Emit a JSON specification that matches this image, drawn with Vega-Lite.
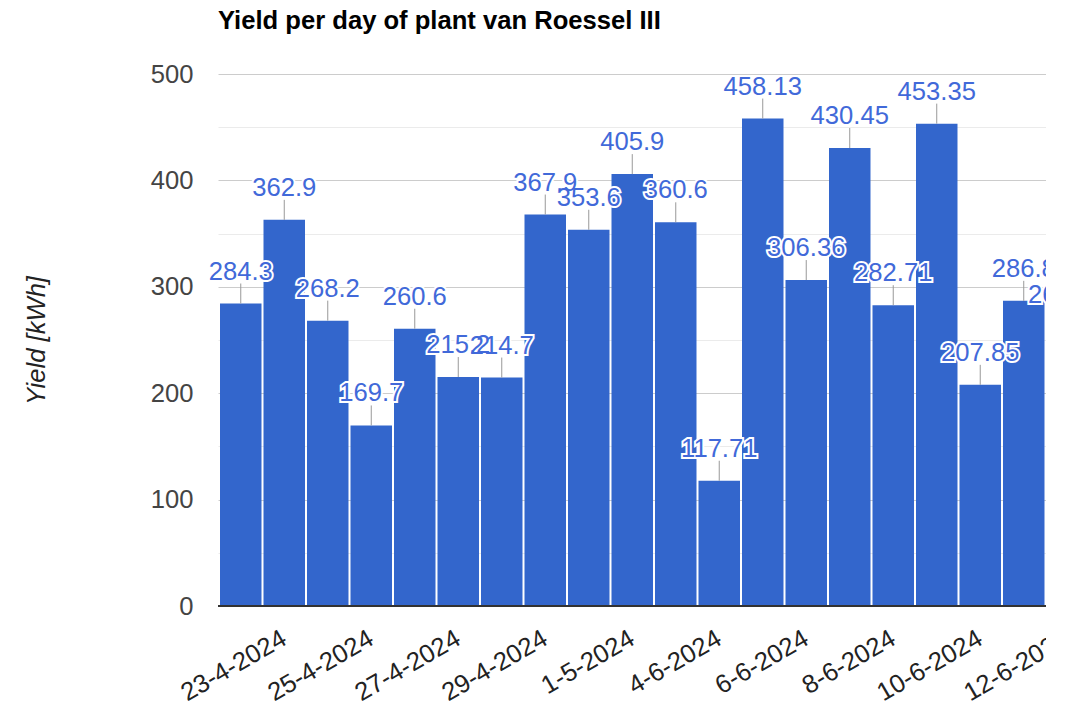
{
  "$schema": "https://vega.github.io/schema/vega-lite/v6.json",
  "autosize": {"type": "none"},
  "padding": {"left": 218, "top": 74, "right": 0, "bottom": 101},
  "width": 828,
  "height": 532,
  "background": "white",
  "title": {
    "text": "Yield per day of plant van Roessel III",
    "anchor": "start",
    "frame": "group",
    "font": "Liberation Sans",
    "fontSize": 25.6,
    "fontWeight": "bold",
    "color": "#000000",
    "baseline": "alphabetic",
    "offset": 7
  },
  "config": {"view": {"stroke": null}, "font": "Liberation Sans"},
  "data": {
    "values": [
      {"date": "22-4-2024", "value": 284.3},
      {"date": "23-4-2024", "value": 362.9},
      {"date": "24-4-2024", "value": 268.2},
      {"date": "25-4-2024", "value": 169.7},
      {"date": "26-4-2024", "value": 260.6},
      {"date": "27-4-2024", "value": 215.2},
      {"date": "28-4-2024", "value": 214.7},
      {"date": "29-4-2024", "value": 367.9},
      {"date": "30-4-2024", "value": 353.6},
      {"date": "1-5-2024", "value": 405.9},
      {"date": "2-5-2024", "value": 360.6},
      {"date": "4-6-2024", "value": 117.71},
      {"date": "5-6-2024", "value": 458.13},
      {"date": "6-6-2024", "value": 306.36},
      {"date": "7-6-2024", "value": 430.45},
      {"date": "8-6-2024", "value": 282.71},
      {"date": "9-6-2024", "value": 453.35},
      {"date": "10-6-2024", "value": 207.85},
      {"date": "11-6-2024", "value": 286.8},
      {"date": "12-6-2024", "value": 261.92}
    ]
  },
  "layer": [
    {
      "mark": {"type": "bar", "color": "#3366cc"},
      "encoding": {
        "x": {
          "field": "date",
          "type": "nominal",
          "sort": null,
          "scale": {"range": [0, 872], "paddingInner": 0.046, "paddingOuter": 0.046},
          "axis": {
            "title": null,
            "values": ["23-4-2024", "25-4-2024", "27-4-2024", "29-4-2024", "1-5-2024", "4-6-2024", "6-6-2024", "8-6-2024", "10-6-2024", "12-6-2024"],
            "labelAngle": -30,
            "labelAlign": "right",
            "labelBaseline": "middle",
            "labelPadding": 30,
            "ticks": false,
            "domain": false,
            "grid": false,
            "labelFontSize": 25.6,
            "labelColor": "#222222",
            "labelOverlap": false,
            "labelLimit": 300
          }
        },
        "y": {
          "field": "value",
          "type": "quantitative",
          "scale": {"domain": [0, 500], "nice": false},
          "axis": {
            "title": "Yield [kWh]",
            "titleFontStyle": "italic",
            "titleFontWeight": "normal",
            "titleFontSize": 25.6,
            "titleColor": "#222222",
            "titlePadding": 101,
            "labelFontSize": 25.6,
            "labelColor": "#444444",
            "labelPadding": 25,
            "ticks": false,
            "domain": false,
            "values": [0, 50, 100, 150, 200, 250, 300, 350, 400, 450, 500],
            "labelExpr": "datum.value % 100 === 0 ? datum.label : ''",
            "gridColor": {"condition": {"test": "datum.value % 100 === 0", "value": "#cccccc"}, "value": "#ebebeb"}
          }
        }
      }
    },
    {
      "mark": {"type": "rule", "color": "#333333", "strokeWidth": 1.5},
      "encoding": {"y": {"datum": 0, "type": "quantitative"}}
    },
    {
      "mark": {"type": "rule", "color": "#999999", "strokeWidth": 1, "y2Offset": -20},
      "encoding": {
        "x": {"field": "date", "type": "nominal", "sort": null, "bandPosition": 0.5},
        "y": {"field": "value", "type": "quantitative"},
        "y2": {"field": "value"}
      }
    },
    {
      "mark": {"type": "text", "baseline": "alphabetic", "align": "center", "dy": -24, "fontSize": 25.6, "fill": "white", "stroke": "white", "strokeWidth": 4},
      "encoding": {
        "x": {"field": "date", "type": "nominal", "sort": null},
        "y": {"field": "value", "type": "quantitative"},
        "text": {"field": "value", "type": "quantitative", "format": ""}
      }
    },
    {
      "mark": {"type": "text", "baseline": "alphabetic", "align": "center", "dy": -24, "fontSize": 25.6, "fill": "#4169d9"},
      "encoding": {
        "x": {"field": "date", "type": "nominal", "sort": null},
        "y": {"field": "value", "type": "quantitative"},
        "text": {"field": "value", "type": "quantitative", "format": ""}
      }
    }
  ]
}
